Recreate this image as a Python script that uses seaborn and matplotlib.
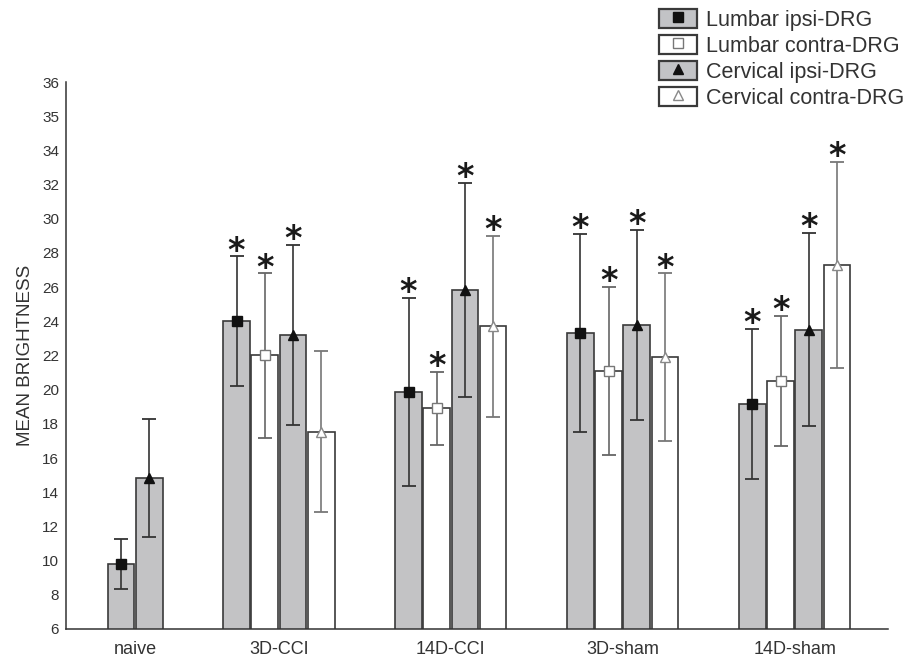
import matplotlib
matplotlib.use("Agg")
import matplotlib.pyplot as plt
from matplotlib.patches import Patch
from matplotlib.lines import Line2D
import numpy as np
import pandas as pd
import seaborn as sns

groups = ["naive", "3D-CCI", "14D-CCI", "3D-sham", "14D-sham"]
series = ["Lumbar ipsi-DRG", "Lumbar contra-DRG", "Cervical ipsi-DRG", "Cervical contra-DRG"]

# mean brightness per group (None = not shown for naive)
lumbar_ipsi = [9.8, 24.0, 19.85, 23.3, 19.15]
lumbar_contra = [None, 22.0, 18.9, 21.1, 20.5]
cervical_ipsi = [14.85, 23.2, 25.85, 23.8, 23.5]
cervical_contra = [None, 17.55, 23.7, 21.9, 27.3]

# error bar half lengths
lumbar_ipsi_err = [1.45, 3.8, 5.5, 5.8, 4.4]
lumbar_contra_err = [None, 4.8, 2.15, 4.9, 3.8]
cervical_ipsi_err = [3.45, 5.25, 6.25, 5.55, 5.65]
cervical_contra_err = [None, 4.7, 5.3, 4.9, 6.05]

# significance stars
lumbar_ipsi_sig = [False, True, True, True, True]
lumbar_contra_sig = [False, True, True, True, True]
cervical_ipsi_sig = [False, True, True, True, True]
cervical_contra_sig = [False, False, True, True, True]

ytick_labels = ["6", "8", "10", "12", "14", "16", "18", "20", "22", "24",
                "26", "28", "30", "32", "34", "35", "36"]

means = [lumbar_ipsi, lumbar_contra, cervical_ipsi, cervical_contra]
errs = [lumbar_ipsi_err, lumbar_contra_err, cervical_ipsi_err, cervical_contra_err]
sigs = [lumbar_ipsi_sig, lumbar_contra_sig, cervical_ipsi_sig, cervical_contra_sig]

# build long table, bars of a group side by side, gap between groups
rows = []
centers = []
gap = 2.1
prev_n, center = None, 0.0
for gi, g in enumerate(groups):
    present = [si for si in range(4) if means[si][gi] is not None]
    n = len(present)
    if prev_n is not None:
        center += (prev_n + n) / 2 + gap
    centers.append(center)
    for k, si in enumerate(present):
        rows.append(dict(group=g, series=series[si], pos=center - (n - 1) / 2 + k,
                         mean=means[si][gi], err=errs[si][gi], sig=sigs[si][gi]))
    prev_n = n
df = pd.DataFrame(rows)

sns.set_theme(style="white")
plt.rcParams["font.family"] = ["Liberation Sans", "DejaVu Sans"]

gray = "#c2c3c6"
colors = {series[0]: gray, series[1]: "white", series[2]: gray, series[3]: "white"}
err_colors = {series[0]: "#333333", series[1]: "#666666", series[2]: "#333333", series[3]: "#777777"}
marker_style = {
    series[0]: dict(marker="s", mfc="#111111", mec="#111111", ms=7.5),
    series[1]: dict(marker="s", mfc="white", mec="#777777", ms=7.5),
    series[2]: dict(marker="^", mfc="#111111", mec="#111111", ms=7.5),
    series[3]: dict(marker="^", mfc="white", mec="#888888", ms=7.5),
}

fig = plt.figure(figsize=(9.08, 6.62), dpi=100)
ax = fig.add_axes([0.0727, 0.050, 0.905, 0.826])

sns.barplot(data=df, x="pos", y="mean", hue="series", hue_order=series,
            palette=colors, native_scale=True, dodge=False, width=0.95,
            edgecolor="#3a3a3a", linewidth=1.2, errorbar=None, legend=False, ax=ax)

for s in series:
    sub = df[df["series"] == s]
    ax.errorbar(sub["pos"], sub["mean"], yerr=sub["err"], fmt="none",
                ecolor=err_colors[s], elinewidth=1.2, capsize=5, capthick=1.3, zorder=3)
    ax.plot(sub["pos"], sub["mean"], ls="none", zorder=4, **marker_style[s])

for _, r in df[df["sig"]].iterrows():
    ax.annotate("*", (r["pos"], r["mean"] + r["err"]), xytext=(0, -3),
                textcoords="offset points", ha="center", va="baseline",
                fontsize=24, family="DejaVu Sans", fontweight="bold", color="#1a1a1a")

ax.set_ylim(6, 38)
ax.set_yticks(np.arange(6, 39, 2))
ax.set_yticklabels(ytick_labels, fontsize=11, color="#333333")
ax.set_xlim(-2.45, 26.7)
ax.set_xticks(centers)
ax.set_xticklabels(groups, fontsize=13, color="#333333")
edges = np.concatenate([df["pos"] - 0.5, df["pos"] + 0.5])
ax.set_xticks(np.unique(np.round(edges, 3)), minor=True)
ax.tick_params(axis="x", which="major", length=0, pad=9)
ax.tick_params(axis="x", which="minor", direction="inout", length=5, width=1, color="#333333")
ax.tick_params(axis="y", direction="in", length=3, width=1, color="#333333", pad=5)
ax.set_xlabel("")
ax.set_ylabel("MEAN BRIGHTNESS", fontsize=13.5, color="#333333", labelpad=6)
for side in ["top", "right"]:
    ax.spines[side].set_visible(False)
for side in ["left", "bottom"]:
    ax.spines[side].set_color("#333333")
    ax.spines[side].set_linewidth(1.1)

handles = []
for s in series:
    st = marker_style[s]
    handles.append((Patch(facecolor=colors[s], edgecolor="#3a3a3a", linewidth=1.6),
                    Line2D([0], [0], ls="none", marker=st["marker"], mfc=st["mfc"],
                           mec=st["mec"], ms=6.5)))
fig.legend(handles, series, loc="upper right", bbox_to_anchor=(1.013, 1.009),
           frameon=False, fontsize=15.5, handlelength=1.75, handleheight=0.95,
           labelspacing=0.2, handletextpad=0.45, borderpad=0.2,
           labelcolor="#333333")

fig.savefig("out.png", dpi=100)
